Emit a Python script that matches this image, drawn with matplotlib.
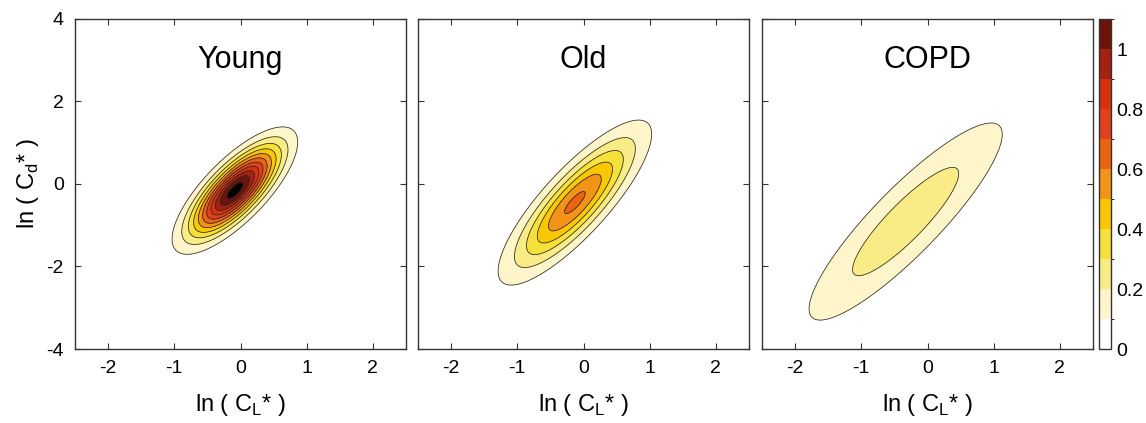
import numpy as np
import matplotlib
matplotlib.use("Agg")
import matplotlib.pyplot as plt
from matplotlib.colors import ListedColormap, BoundaryNorm
import matplotlib.cm as cm

plt.rcParams['font.family'] = ['Liberation Sans', 'DejaVu Sans']
plt.rcParams['mathtext.fontset'] = 'custom'
plt.rcParams['mathtext.rm'] = 'Liberation Sans'
plt.rcParams['axes.unicode_minus'] = False

# groups and the fitted bivariate distribution parameters
groups = ["Young", "Old", "COPD"]
mean_x = [-0.085, -0.13, -0.33]
mean_y = [-0.16, -0.45, -0.91]
sd_x = [0.43, 0.607, 1.035]
sd_y = [0.70, 1.047, 1.695]
rho = [0.76, 0.83, 0.885]
peak = [1.14, 0.62, 0.27]

levels = [0.0, 0.1, 0.2, 0.3, 0.4, 0.5, 0.6, 0.7, 0.8, 0.9, 1.0, 1.1]
level_colors = ["#ffffff", "#fef5cb", "#f9eb85", "#f6e03c", "#f9c703",
                "#f39419", "#eb6311", "#e0401c", "#d6320f", "#a42010",
                "#6c1409"]
cbar_ticks = [0, 0.2, 0.4, 0.6, 0.8, 1.0]
cbar_labels = ["0", "0.2", "0.4", "0.6", "0.8", "1"]
x_ticks = [-2, -1, 0, 1, 2]
y_ticks = [-4, -2, 0, 2, 4]

cmap = ListedColormap(level_colors)
cmap.set_over("black")
norm = BoundaryNorm(levels, cmap.N)

fig = plt.figure(figsize=(11.46, 4.23), dpi=100)
lefts = [75, 418, 762]
xs = np.linspace(-2.5, 2.5, 500)
ys = np.linspace(-4, 4, 700)
X, Y = np.meshgrid(xs, ys)

for i, name in enumerate(groups):
    ax = fig.add_axes([lefts[i] / 1146, 74 / 423, 331 / 1146, 330 / 423])
    u = (X - mean_x[i]) / sd_x[i]
    v = (Y - mean_y[i]) / sd_y[i]
    q = (u**2 - 2 * rho[i] * u * v + v**2) / (1 - rho[i]**2)
    Z = peak[i] * np.exp(-q / 2)
    ax.contourf(X, Y, Z, levels=levels, cmap=cmap, norm=norm, extend='max')
    lv = [l for l in levels[1:] if l < Z.max()]
    ax.contour(X, Y, Z, levels=lv, colors="#2a2a2a", linewidths=0.55)
    ax.set_xlim(-2.5, 2.5)
    ax.set_ylim(-4, 4)
    ax.set_xticks(x_ticks)
    ax.set_yticks(y_ticks)
    ax.tick_params(direction='in', top=True, right=True, length=4,
                   labelsize=14, color="#333333", pad=8)
    for s in ax.spines.values():
        s.set_color("#333333")
        s.set_linewidth(1.0)
    if i > 0:
        ax.set_yticklabels([])
    else:
        ax.set_ylabel(r"ln ( C$_\mathregular{d}$* )", fontsize=17, labelpad=4)
    ax.set_xlabel(r"ln ( C$_\mathregular{L}$* )", fontsize=17, labelpad=11)
    ax.text(0.5, 0.875, name, transform=ax.transAxes, ha='center', va='center', fontsize=22)

cax = fig.add_axes([1099 / 1146, 74 / 423, 12 / 1146, 330 / 423])
sm = cm.ScalarMappable(norm=norm, cmap=cmap)
cb = fig.colorbar(sm, cax=cax, boundaries=levels, ticks=cbar_ticks)
cb.ax.set_yticklabels(cbar_labels)
cb.ax.tick_params(labelsize=14, length=0, pad=4)
cb.outline.set_edgecolor("#333333")
cb.outline.set_linewidth(1.0)

fig.savefig("out.png", dpi=100)
